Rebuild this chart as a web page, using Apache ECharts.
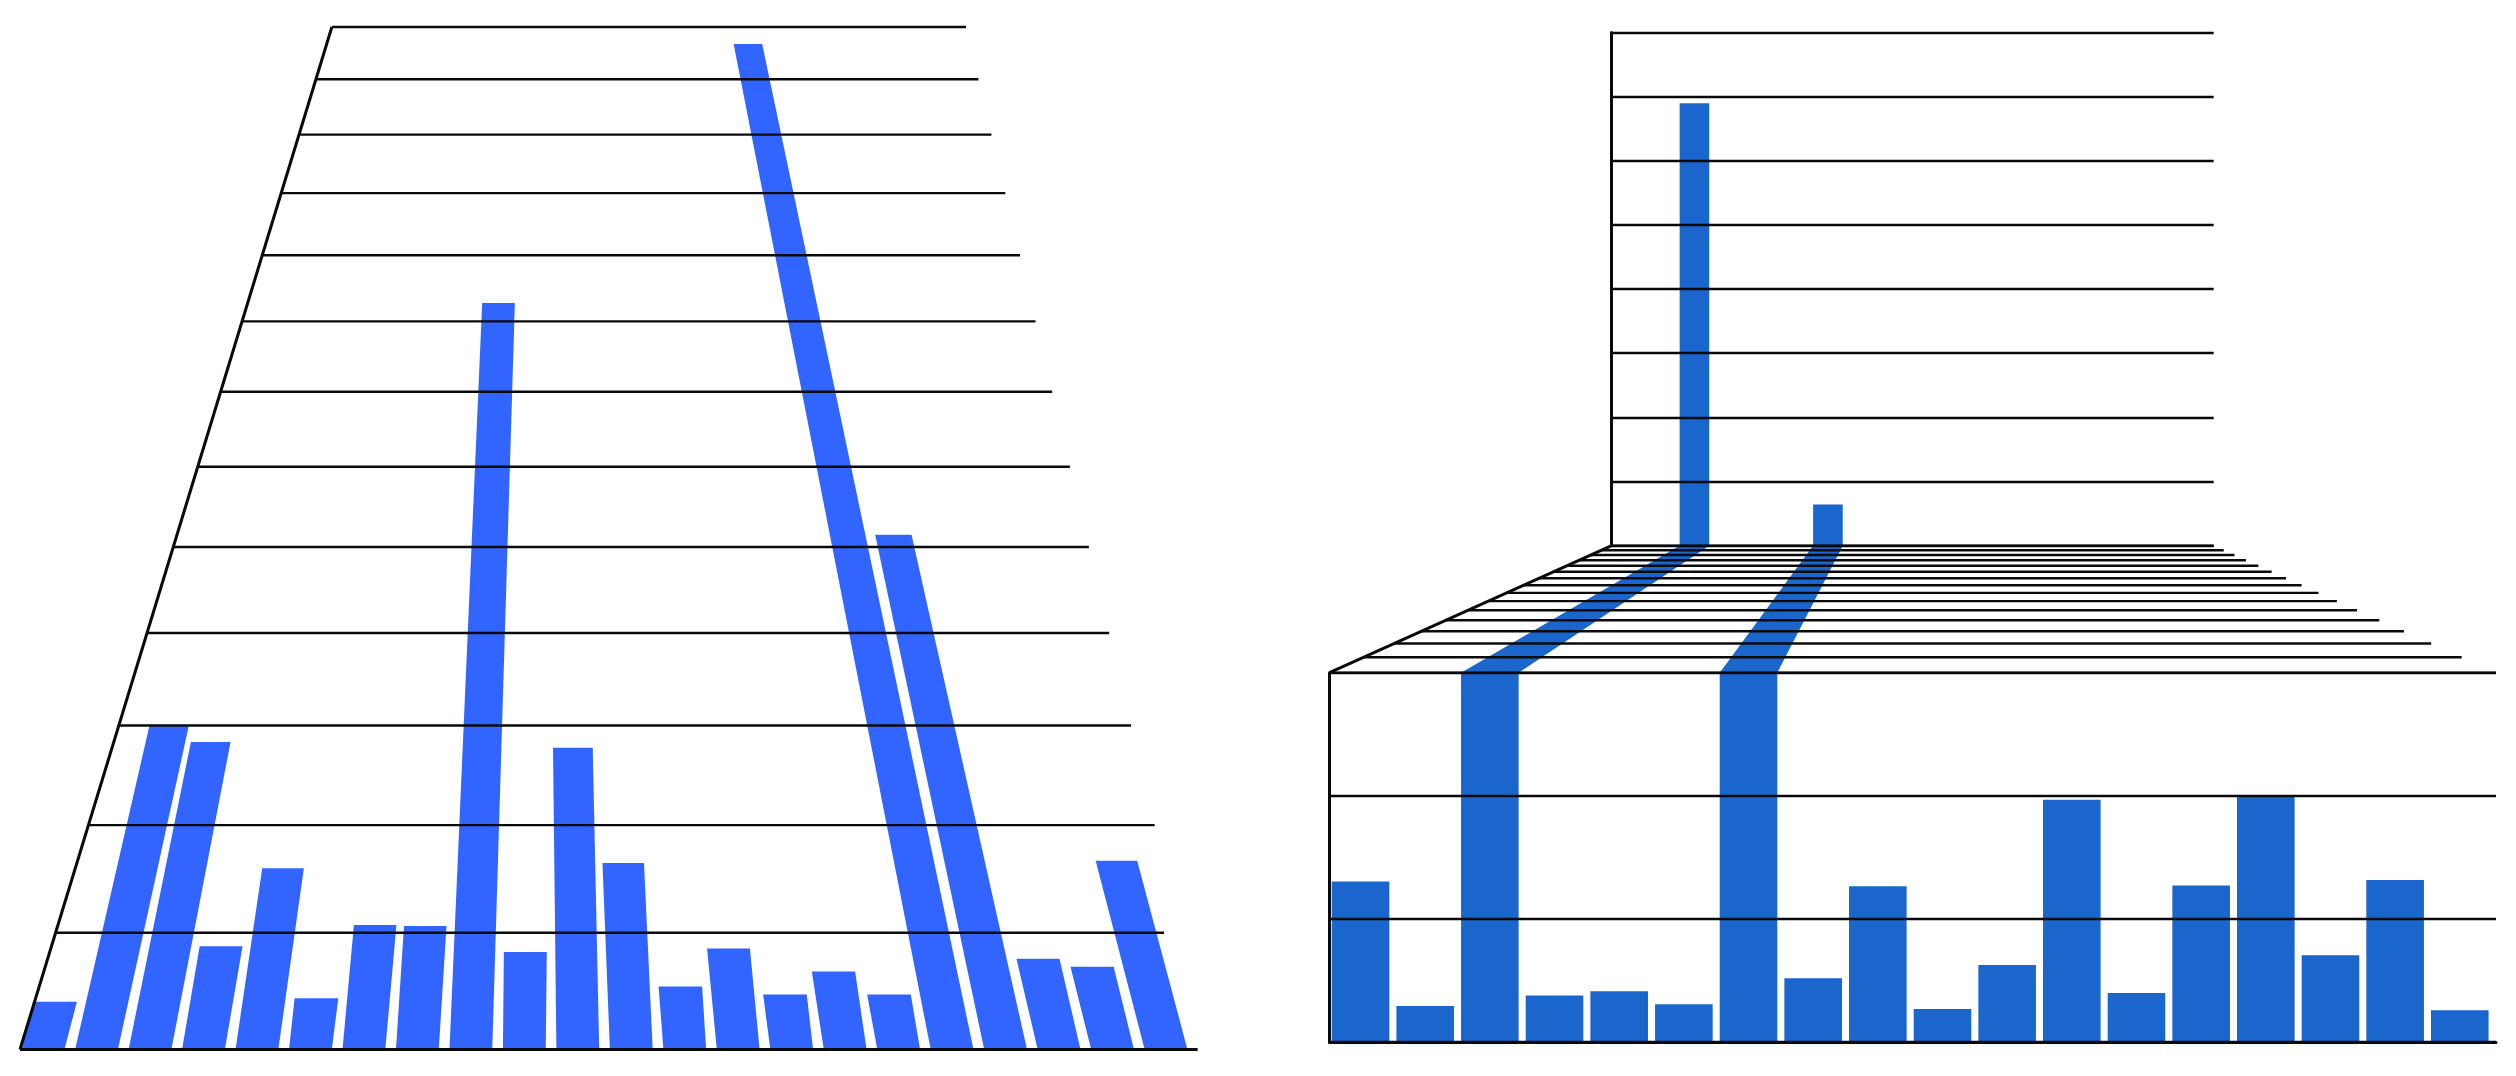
<!DOCTYPE html>
<html>
<head>
<meta charset="utf-8">
<style>
  html, body { margin: 0; background: #fff; }
  #chart { width: 2516px; height: 1076px; }
</style>
<script src="https://cdn.jsdelivr.net/npm/echarts@6/dist/echarts.min.js"></script>
</head>
<body>
<div id="chart"></div>
<script>
// left panel: 22 bars seen in perspective
const leftCategories = ['1','2','3','4','5','6','7','8','9','10','11','12','13','14','15','16','17','18','19','20','21','22'];
const leftValues = [4, 30, 28.3, 8.8, 15.9, 4.3, 10.7, 10.6, 82.7, 8.3, 27.7, 16.4, 5.3, 8.6, 4.6, 6.6, 4.6, 126.7, 51.5, 7.7, 7, 16.6];
const leftTicks = [0, 10, 20, 30, 40, 50, 60, 70, 80, 90, 100, 110, 120, 130];

// right panel: front wall, floor, back wall
const frontValues = [130.5, 29.4, 300, 38, 41.3, 30.8, 300, 51.9, 126.7, 27, 62.7, 196.9, 39.9, 127.2, 200, 70.5, 131.7, 25.9];
const tallBarSlots = [2, 6];
const backValues = [690, 64];
const floorTicks = [0, 1, 2, 3, 4, 5, 6, 7, 8, 9, 10, 11, 12, 13, 14, 15];

const LEFT_BLUE = '#3264ff';
const RIGHT_BLUE = '#1a66cc';
const INK = '#0a0a0a';
const GRID_W = 2.4;
const AXIS_W = 3;

// left grid box, flat, gets bent by the functions below
const L = { left: 16.3, top: 27, width: 1176.5, height: 1022.5 };
const LB = L.top + L.height;

function leftY(py) {
  const c = 0.042;
  const t = (LB - py) / L.height * 13;
  return LB - L.height * t * (1 + 13 * c) / (13 * (1 + c * t));
}
function leftEdge(y) { return 20 + 0.305 * (LB - y); }
function rightEdge(y) { return 966 + 0.2363 * (y - L.top); }
// the two lowest lines stop short of the straight edge in the source
const rightTrim = { 0: 10, 10: 16 };

// how far a bar leans per pixel of height, the far right ones lean a bit less
function lean(x0) {
  return (545 - x0) / 2000 + 0.00022 * Math.max(0, x0 - 950);
}

function leftBar(params, api) {
  const i = api.value(0);
  const base = api.coord([i, 0]);
  const top = api.coord([i, api.value(1)]);
  const hw = api.size([1, 0])[0] * 0.4;
  const y1 = leftY(top[1]);
  const d = LB - y1;
  const cx = base[0] + lean(base[0]) * d;
  const hwTop = hw * (1.04 - d / 2700);
  return {
    type: 'polygon',
    shape: { points: [[base[0] - hw, LB], [base[0] + hw, LB], [cx + hwTop, y1], [cx - hwTop, y1]] },
    style: { fill: LEFT_BLUE }
  };
}

function leftLine(params, api) {
  const tick = api.value(0);
  const y = leftY(api.coord([0, tick])[1]);
  const x2 = rightEdge(y) - (rightTrim[tick] || 0);
  return {
    type: 'line',
    shape: { x1: leftEdge(y), y1: y, x2: x2, y2: y },
    style: { stroke: INK, lineWidth: tick === 0 ? AXIS_W : GRID_W }
  };
}

function leftAxisLine(params, api) {
  const y1 = leftY(api.coord([0, 0])[1]);
  const y2 = leftY(api.coord([0, 130])[1]);
  return {
    type: 'line',
    shape: { x1: leftEdge(y1), y1: y1, x2: leftEdge(y2), y2: y2 },
    style: { stroke: INK, lineWidth: AXIS_W }
  };
}

// floor between the two walls
const F = { left: 1329.5, top: 545.7, width: 1166.5, height: 127 };
const SLOT_MIN = 0.02;
const SLOT_MAX = 18.06;
const FB = F.top + F.height;
const FLOOR_C = 0.0625;
const VANISH_X = 1912.6;
const VANISH_Y = 410.3;

function floorPoint(px, py) {
  const t = (FB - py) / F.height * 15;
  const s = 1 / (1 + FLOOR_C * t);
  return [VANISH_X + (px - VANISH_X) * s, VANISH_Y + (FB - VANISH_Y) * s];
}

function floorLine(params, api) {
  const t = api.value(0);
  const a = api.coord([SLOT_MIN, t]);
  const b = api.coord([SLOT_MAX, t]);
  const p1 = floorPoint(a[0], a[1]);
  const p2 = floorPoint(b[0], b[1]);
  return {
    type: 'line',
    shape: { x1: p1[0], y1: p1[1], x2: p2[0], y2: p2[1] },
    style: { stroke: INK, lineWidth: GRID_W }
  };
}

function floorEdge(params, api) {
  const a = api.coord([SLOT_MIN, 0]);
  const b = api.coord([SLOT_MIN, 15]);
  const p1 = floorPoint(a[0], a[1]);
  const p2 = floorPoint(b[0], b[1]);
  return {
    type: 'line',
    shape: { x1: p1[0], y1: p1[1], x2: p2[0], y2: p2[1] },
    style: { stroke: INK, lineWidth: AXIS_W }
  };
}

function floorBar(params, api) {
  const slot = api.value(0) + 0.5;
  const hw = api.size([1, 0])[0] * 0.445;
  const a = api.coord([slot, 0]);
  const b = api.coord([slot, 15]);
  const points = [
    floorPoint(a[0] - hw, a[1]),
    floorPoint(a[0] + hw, a[1]),
    floorPoint(b[0] + hw, b[1]),
    floorPoint(b[0] - hw, b[1])
  ];
  return { type: 'polygon', shape: { points: points }, style: { fill: RIGHT_BLUE } };
}

const wallAxis = {
  type: 'value', min: 0, z: 5,
  axisLine: { show: true, lineStyle: { color: INK, width: AXIS_W } },
  axisTick: { show: false },
  axisLabel: { show: false },
  splitLine: { show: true, lineStyle: { color: INK, width: GRID_W } }
};
const slotAxis = { type: 'value', min: SLOT_MIN, max: SLOT_MAX, show: false };

const chart = echarts.init(document.getElementById('chart'));
chart.setOption({
  animation: false,
  backgroundColor: '#fff',
  grid: [
    L,
    { left: 1329.5, top: 672.7, width: 1166.5, height: 369.5 },
    { left: 1611.7, top: 32.6, width: 602, height: 513 },
    F
  ],
  xAxis: [
    { type: 'category', data: leftCategories, show: false, gridIndex: 0 },
    {
      type: 'value', min: SLOT_MIN, max: SLOT_MAX, gridIndex: 1, z: 5,
      axisLine: { show: true, onZero: false, lineStyle: { color: INK, width: AXIS_W } },
      axisTick: { show: false }, axisLabel: { show: false }, splitLine: { show: false }
    },
    Object.assign({ gridIndex: 2 }, slotAxis),
    Object.assign({ gridIndex: 3 }, slotAxis)
  ],
  yAxis: [
    { type: 'value', min: 0, max: 130, interval: 10, show: false, gridIndex: 0 },
    Object.assign({}, wallAxis, { gridIndex: 1, max: 300, interval: 100 }),
    Object.assign({}, wallAxis, { gridIndex: 2, max: 800, interval: 100 }),
    { type: 'value', min: 0, max: 15, show: false, gridIndex: 3 }
  ],
  series: [
    {
      type: 'custom', xAxisIndex: 0, yAxisIndex: 0, z: 2, renderItem: leftBar,
      data: leftValues.map((v, i) => [i, v]), encode: { x: 0, y: 1 }
    },
    {
      type: 'custom', xAxisIndex: 0, yAxisIndex: 0, z: 3, renderItem: leftLine,
      data: leftTicks.map(t => [t]), encode: { y: 0 }
    },
    {
      type: 'custom', xAxisIndex: 0, yAxisIndex: 0, z: 3, renderItem: leftAxisLine,
      data: [[0]], encode: { y: 0 }
    },
    {
      type: 'bar', xAxisIndex: 1, yAxisIndex: 1, barWidth: 57.6, z: 2,
      itemStyle: { color: RIGHT_BLUE },
      data: frontValues.map((v, i) => [i + 0.5, v])
    },
    {
      type: 'bar', xAxisIndex: 2, yAxisIndex: 2, barWidth: 29.6, z: 2,
      itemStyle: { color: RIGHT_BLUE },
      data: backValues.map((v, i) => [tallBarSlots[i] + 0.5, v])
    },
    {
      type: 'custom', xAxisIndex: 3, yAxisIndex: 3, z: 2, renderItem: floorBar,
      data: tallBarSlots.map(s => [s]), encode: { x: 0 }
    },
    {
      type: 'custom', xAxisIndex: 3, yAxisIndex: 3, z: 3, renderItem: floorLine,
      data: floorTicks.map(t => [t]), encode: { y: 0 }
    },
    {
      type: 'custom', xAxisIndex: 3, yAxisIndex: 3, z: 3, renderItem: floorEdge,
      data: [[0]], encode: { y: 0 }
    }
  ]
});
</script>
</body>
</html>
